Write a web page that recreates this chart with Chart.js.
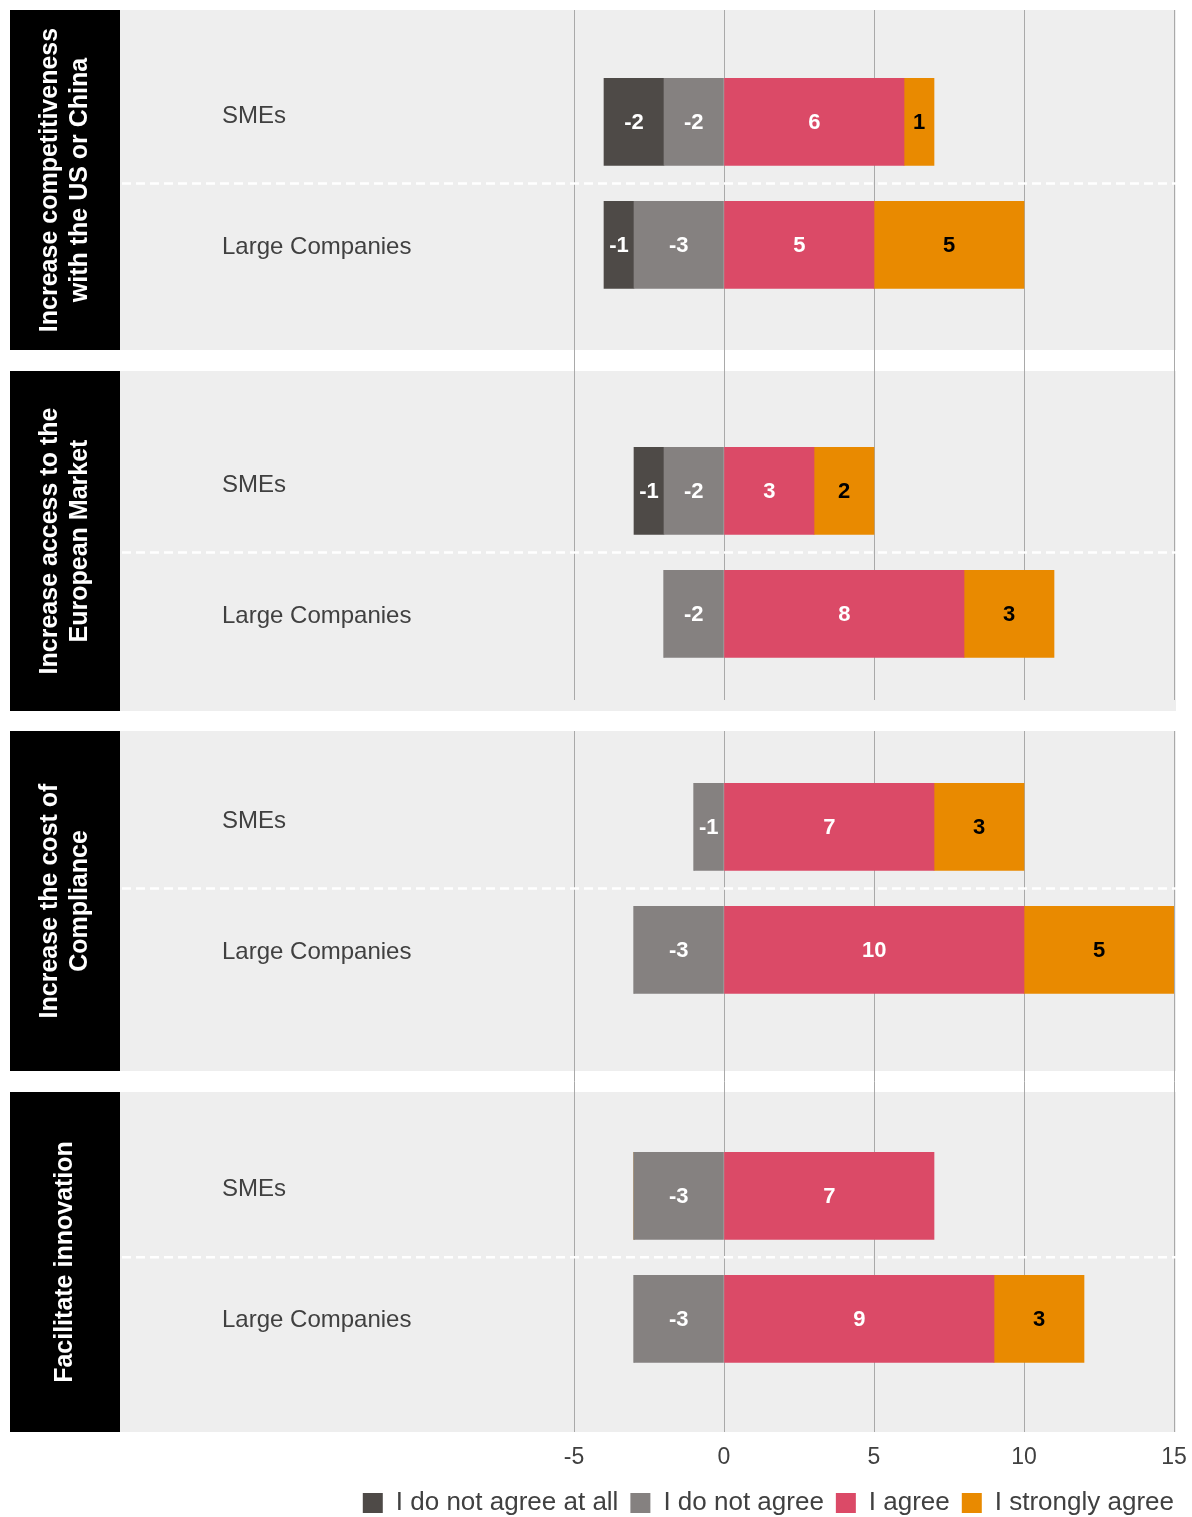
<!DOCTYPE html>
<html>
<head>
<meta charset="utf-8">
<title>Survey responses</title>
<script src="https://cdn.jsdelivr.net/npm/chart.js@4.4.1/dist/chart.umd.min.js"></script>
<style>
  body { margin: 0; background: #fff; overflow: hidden; }
  #wrap { position: relative; width: 1192px; height: 1517px; }
  canvas { position: absolute; left: 0; }
  #top { top: 0; }
  #bottom { top: 720px; }
</style>
</head>
<body>
<div id="wrap">
  <canvas id="top" width="1192" height="720"></canvas>
  <canvas id="bottom" width="1192" height="797"></canvas>
</div>
<script>
const groups = [
  ['Increase competitiveness', 'with the US or China'],
  ['Increase access to the', 'European Market'],
  ['Increase the cost of', 'Compliance'],
  ['Facilitate innovation']
];
const companyTypes = ['SMEs', 'Large Companies'];
const seriesNames = ['I do not agree at all', 'I do not agree', 'I agree', 'I strongly agree'];
// one value per group and company type: g1 SMEs, g1 Large, g2 SMEs, g2 Large, ...
const notAtAll = [-2, -1, -1, 0, 0, 0, 0, 0];
const notAgree = [-2, -3, -2, -2, -1, -3, -3, -3];
const agree = [6, 5, 3, 8, 7, 10, 7, 9];
const stronglyAgree = [1, 5, 2, 3, 3, 5, 0, 3];
const xTicks = [-5, 0, 5, 10, 15];

const seriesValues = [notAtAll, notAgree, agree, stronglyAgree];
const colors = ['#4e4a47', '#858180', '#db4a67', '#e98a00'];
const valueColors = ['#fff', '#fff', '#fff', '#000'];
// negative answers stack outward from zero, "do not agree" next to the axis
const stackOrder = [1, 0, 2, 3];
const FONT = '"Liberation Sans", Arial, Helvetica, sans-serif';
const TEXT = '#404040';

// panel boxes (canvas px) for each half of the figure
const halves = [
  { canvas: 'top', panels: [[10, 350], [371, 711]], yMin: -0.91, yMax: 4.70, padTop: 10, padBottom: 20, axisH: 0, axis: false },
  { canvas: 'bottom', panels: [[11, 351], [372, 712]], yMin: -0.78, yMax: 4.92, padTop: 11, padBottom: -9, axisH: 46, axis: true }
];
const labelShift = [-6, 2];

const panelPlugin = {
  id: 'panels',
  beforeDraw(chart, args, opts) {
    const ctx = chart.ctx;
    ctx.save();
    opts.panels.forEach((p, i) => {
      ctx.fillStyle = '#eeeeee';
      ctx.fillRect(10, p[0], 1166, p[1] - p[0]);
      ctx.fillStyle = '#000';
      ctx.fillRect(10, p[0], 110, p[1] - p[0]);
      const lines = groups[opts.first + i];
      ctx.save();
      ctx.translate(65, (p[0] + p[1]) / 2);
      ctx.rotate(-Math.PI / 2);
      ctx.fillStyle = '#fff';
      ctx.font = 'bold 25px ' + FONT;
      ctx.textAlign = 'center';
      ctx.textBaseline = 'middle';
      lines.forEach((line, k) => ctx.fillText(line, 0, (k - (lines.length - 1) / 2) * 30));
      ctx.restore();
    });
    ctx.restore();
  },
  beforeDatasetsDraw(chart, args, opts) {
    const ctx = chart.ctx;
    const y = chart.scales.y;
    ctx.save();
    opts.panels.forEach((p, g) => {
      // dashed divider between SMEs and Large Companies
      const yd = y.getPixelForValue(g * 3 + 0.5);
      ctx.strokeStyle = '#fff';
      ctx.lineWidth = 2.5;
      ctx.setLineDash([9, 5]);
      ctx.beginPath();
      ctx.moveTo(122, yd);
      ctx.lineTo(1176, yd);
      ctx.stroke();
      ctx.setLineDash([]);
      ctx.fillStyle = TEXT;
      ctx.font = '24px ' + FONT;
      ctx.textAlign = 'left';
      ctx.textBaseline = 'middle';
      companyTypes.forEach((name, t) => {
        ctx.fillText(name, 222, y.getPixelForValue(g * 3 + t) + labelShift[t]);
      });
    });
    ctx.restore();
  },
  afterDatasetsDraw(chart) {
    const ctx = chart.ctx;
    ctx.save();
    ctx.font = 'bold 22px ' + FONT;
    ctx.textAlign = 'center';
    ctx.textBaseline = 'middle';
    chart.data.datasets.forEach((ds, di) => {
      chart.getDatasetMeta(di).data.forEach((bar, i) => {
        const v = ds.data[i].x;
        if (!v) return;
        const c = bar.getCenterPoint();
        ctx.fillStyle = valueColors[di];
        ctx.fillText(String(v), c.x, c.y + 1);
      });
    });
    ctx.restore();
  }
};

halves.forEach((h, hi) => {
  const first = hi * 2;
  const datasets = seriesNames.map((name, s) => {
    const data = [];
    [0, 1].forEach(g => {
      companyTypes.forEach((t, ti) => {
        data.push({ x: seriesValues[s][(first + g) * 2 + ti], y: g * 3 + ti });
      });
    });
    return {
      label: name,
      data: data,
      backgroundColor: colors[s],
      borderWidth: 0,
      barThickness: 87,
      order: stackOrder[s]
    };
  });

  new Chart(document.getElementById(h.canvas), {
    type: 'bar',
    data: { datasets: datasets },
    plugins: [panelPlugin],
    options: {
      responsive: false,
      animation: false,
      indexAxis: 'y',
      layout: { padding: { left: 10, right: 6, top: h.padTop, bottom: h.padBottom } },
      scales: {
        x: {
          type: 'linear',
          stacked: true,
          min: xTicks[0],
          max: xTicks[xTicks.length - 1],
          afterBuildTicks: s => { s.ticks = xTicks.map(v => ({ value: v })); },
          afterFit: s => { s.paddingLeft = 0; s.paddingRight = 18; s.height = h.axisH; },
          ticks: { display: h.axis, color: TEXT, font: { family: FONT, size: 23 }, padding: 12 },
          grid: { color: '#a9a9a9', lineWidth: 1, drawTicks: false },
          border: { display: false }
        },
        y: {
          type: 'linear',
          stacked: true,
          reverse: true,
          offset: false,
          min: h.yMin,
          max: h.yMax,
          ticks: { display: false },
          grid: { display: false, offset: false },
          border: { display: false },
          afterFit: s => { s.width = 564; }
        }
      },
      plugins: {
        panels: { panels: h.panels, first: first },
        tooltip: { enabled: false },
        legend: {
          display: h.axis,
          position: 'bottom',
          align: 'end',
          labels: {
            boxWidth: 20,
            boxHeight: 20,
            padding: 12,
            color: TEXT,
            font: { family: FONT, size: 26 },
            sort: (a, b) => a.datasetIndex - b.datasetIndex
          }
        }
      }
    }
  });
});
</script>
</body>
</html>
